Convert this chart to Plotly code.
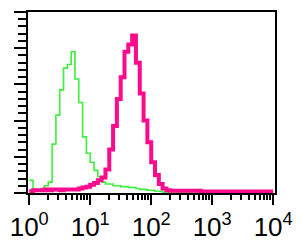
import numpy as np
import plotly.graph_objects as go

# channel grid: 64 bins per 4 decades (log scale)
decades = 4
bins_per_decade = 16

green_counts = [7, 2, 1.5, 2.5, 4, 6, 27, 43, 57, 69, 71, 78, 63, 50, 31, 22,
                17, 12.5, 9, 6, 5, 5, 4, 4, 3.5, 3.5, 3, 3, 2.5, 2, 2, 1.5,
                1.5, 1, 1, 0.5, 0, 0, 0, 0, 0, 0, 0, 0, 0, 0, 0, 0,
                0, 0, 0, 0, 0, 0, 0, 0, 0, 0, 0, 0, 0, 0, 0, 0]

magenta_counts = [1, 1.5, 1.5, 1.5, 2, 1.5, 2, 2, 1.5, 2, 2, 2, 2, 2.5, 3, 3.5,
                  4.5, 5.5, 7, 8.5, 13, 24, 37, 52, 64, 78, 82, 87, 72, 55, 40, 28,
                  17, 10, 5, 2.5, 1.5, 1.2, 1.2, 1.2, 1.2, 1.2, 1.2, 1.2, 1.2, 0.8, 0.8, 0.8,
                  0.8, 0.8, 0.8, 0.8, 0.8, 0.8, 0.8, 0.8, 0.8, 0.8, 0.8, 0.8, 0.8, 0.8, 0.8, 0.8]

tick_vals = [1, 10, 100, 1000, 10000]
tick_text = ["10<sup>0</sup>", "10<sup>1</sup>", "10<sup>2</sup>", "10<sup>3</sup>", "10<sup>4</sup>"]

edges = 10 ** (np.arange(decades * bins_per_decade + 1) / bins_per_decade)
minor_vals = [m * 10 ** k for k in range(decades) for m in range(2, 10)]

fig = go.Figure()
fig.add_trace(go.Scatter(x=edges, y=green_counts + [green_counts[-1]], mode="lines",
                         line=dict(color="#3cf03c", width=1.6, shape="hv"), hoverinfo="skip"))
fig.add_trace(go.Scatter(x=edges, y=magenta_counts + [magenta_counts[-1]], mode="lines",
                         line=dict(color="#ff0a8c", width=4, shape="hv"), hoverinfo="skip"))

fig.update_layout(
    width=303, height=252,
    margin=dict(l=20, r=26, t=10, b=50),
    paper_bgcolor="white", plot_bgcolor="white",
    showlegend=False,
    font=dict(family="Liberation Sans, Arial", size=26, color="black"),
)
fig.update_xaxes(
    type="log", range=[-0.02, 4.03],
    tickvals=tick_vals, ticktext=tick_text,
    ticks="outside", ticklen=10, tickwidth=2, tickcolor="black",
    minor=dict(tickvals=minor_vals, ticks="outside", ticklen=5, tickwidth=2, tickcolor="black"),
    showline=True, linecolor="black", linewidth=2, mirror=True,
    showgrid=False, zeroline=False,
)
fig.update_yaxes(
    range=[0, 100],
    tickvals=[0, 20, 40, 60, 80, 100], showticklabels=False,
    ticks="outside", ticklen=12, tickwidth=2, tickcolor="black",
    minor=dict(dtick=4, ticks="outside", ticklen=8, tickwidth=2, tickcolor="black"),
    showline=True, linecolor="black", linewidth=2, mirror=True,
    showgrid=False, zeroline=False,
)

fig.write_html("out.html")
